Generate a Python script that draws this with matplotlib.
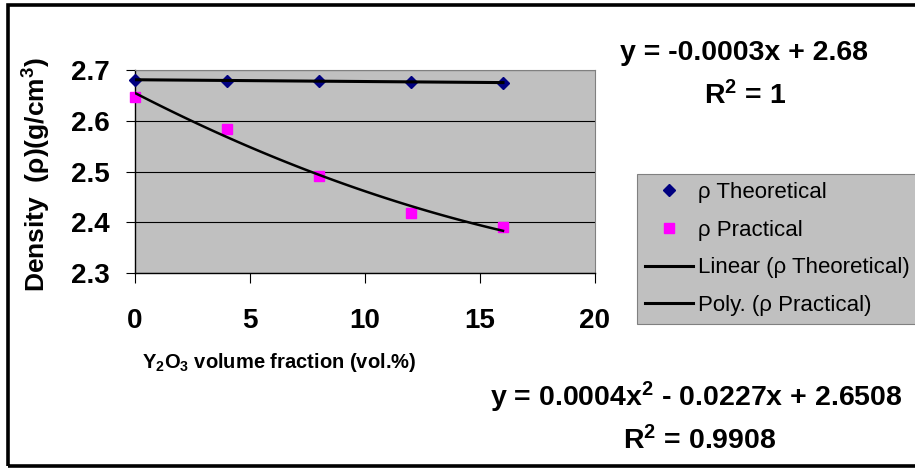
import numpy as np
import matplotlib
matplotlib.use("Agg")
import matplotlib.pyplot as plt
from matplotlib.lines import Line2D
from matplotlib.patches import Rectangle

# data
vol_frac = [0, 4, 8, 12, 16]
rho_theoretical = [2.681, 2.679, 2.678, 2.677, 2.675]
rho_practical = [2.647, 2.584, 2.491, 2.419, 2.390]

x_ticks = [0, 5, 10, 15, 20]
y_ticks = [2.3, 2.4, 2.5, 2.6, 2.7]

eq_lin = "y = -0.0003x + 2.68"
r2_lin = "R${}^{2}$ = 1"
eq_poly = "y = 0.0004x${}^{2}$ - 0.0227x + 2.6508"
r2_poly = "R${}^{2}$ = 0.9908"

plt.rcParams['font.family'] = ['Liberation Sans', 'DejaVu Sans']
plt.rcParams['mathtext.fontset'] = 'custom'
plt.rcParams['mathtext.rm'] = 'Liberation Sans:bold'
plt.rcParams['mathtext.it'] = 'Liberation Sans:bold'
plt.rcParams['mathtext.bf'] = 'Liberation Sans:bold'

W, H = 915, 469
fig = plt.figure(figsize=(W / 100, H / 100), dpi=100)
ax = fig.add_axes([135 / W, 1 - 273 / H, 460 / W, 203 / H])
ax.set_facecolor('#c0c0c0')

# trendlines (fitted from the points, like the excel trendlines)
xs = np.linspace(min(vol_frac), max(vol_frac), 100)
lin = np.polyfit(vol_frac, rho_theoretical, 1)
poly = np.polyfit(vol_frac, rho_practical, 2)

ax.plot(vol_frac, rho_theoretical, 'D', color='#000080', ms=6, zorder=3, clip_on=False)
ax.plot(vol_frac, rho_practical, 's', color='#ff00ff', ms=7.5, mec='#ff00ff', zorder=3, clip_on=False)
ax.plot(xs, np.polyval(lin, xs), color='black', lw=2.2, zorder=4)
ax.plot(xs, np.polyval(poly, xs), color='black', lw=1.8, zorder=4)

ax.set_xlim(0, 20)
ax.set_ylim(2.3, 2.7)
ax.set_xticks(x_ticks)
ax.set_yticks(y_ticks)
ax.set_xticklabels([str(t) for t in x_ticks], fontsize=20, fontweight='bold')
ax.set_yticklabels(["%.1f" % t for t in y_ticks], fontsize=20, fontweight='bold')
ax.tick_params(axis='x', length=7, width=0.8, pad=18)
ax.tick_params(axis='y', length=6.5, width=0.8, pad=12)
ax.yaxis.grid(True, color='black', lw=0.8)
ax.set_axisbelow(True)
for s in ['top', 'right']:
    ax.spines[s].set_color('#808080')
    ax.spines[s].set_linewidth(0.8)
for s in ['left', 'bottom']:
    ax.spines[s].set_linewidth(1.0)

fig.text(37 / W, 1 - 175 / H, "Density  (\u03c1)(g/cm${}^{3}$)", rotation=90,
         ha='center', va='center', fontsize=19, fontweight='bold')
fig.text(279 / W, 1 - 362 / H, "Y$_{2}$O$_{3}$ volume fraction (vol.%)",
         ha='center', va='center', fontsize=14.5, fontweight='bold')

fig.text(744 / W, 1 - 60 / H, eq_lin, ha='center', va='baseline', fontsize=20.5, fontweight='bold')
fig.text(745 / W, 1 - 104 / H, r2_lin, ha='center', va='baseline', fontsize=20.5, fontweight='bold')
fig.text(696 / W, 1 - 406 / H, eq_poly, ha='center', va='baseline', fontsize=20.5, fontweight='bold')
fig.text(700 / W, 1 - 449 / H, r2_poly, ha='center', va='baseline', fontsize=20.5, fontweight='bold')

handles = [
    Line2D([], [], ls='none', marker='D', color='#000080', ms=6),
    Line2D([], [], ls='none', marker='s', color='#ff00ff', ms=7.5),
    Line2D([], [], color='black', lw=2.2),
    Line2D([], [], color='black', lw=2.2),
]
labels = ["\u03c1 Theoretical", "\u03c1 Practical",
          "Linear (\u03c1 Theoretical)", "Poly. (\u03c1 Practical)"]
leg = fig.legend(handles, labels, loc='upper left', bbox_to_anchor=(637 / W, 1 - 174 / H),
                 bbox_transform=fig.transFigure, borderaxespad=0, fontsize=16,
                 handlelength=2.15, handletextpad=0.22, labelspacing=0.75, borderpad=0.36,
                 fancybox=False, framealpha=1, facecolor='#c0c0c0', edgecolor='#808080')
leg.get_frame().set_linewidth(0.8)

# outer chart border, open past the right edge
fig.add_artist(Rectangle((7.5 / W, 1 - 466 / H), 1.0, 461 / H, transform=fig.transFigure,
                         fill=False, ec='black', lw=2.6, clip_on=False))

fig.savefig("out.png", dpi=100)
